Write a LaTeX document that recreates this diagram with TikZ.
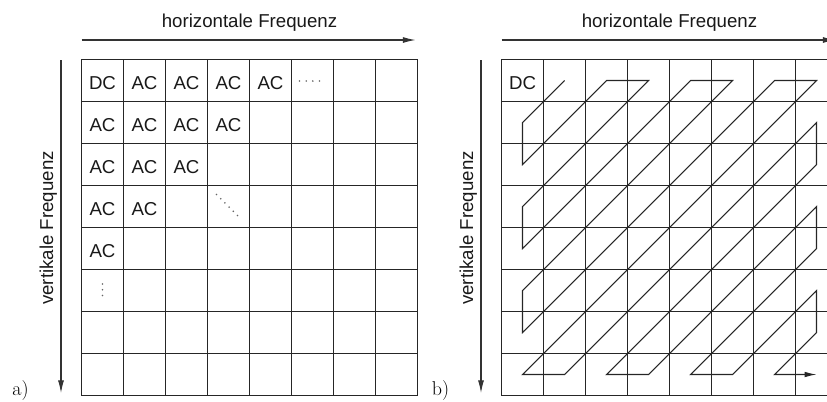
\documentclass[tikz,border=0pt]{standalone}
\usepackage{fontspec}
\newfontfamily\labelfont{Liberation Sans}
\usetikzlibrary{arrows.meta}
\begin{document}
\begin{tikzpicture}[x=0.75pt,y=-0.75pt,
  gridline/.style={line width=1pt, draw=black!85},
  frameline/.style={line width=1.4pt, draw=black!85},
  axis/.style={line width=0.8pt, draw=black!80, -{Latex[length=9.5pt,width=4.5pt]}},
  scanline/.style={line width=0.8pt, draw=black!85, line join=miter, -{Latex[length=9pt,width=4.2pt]}},
  celltext/.style={font=\labelfont\fontsize{14}{14}\selectfont, anchor=base, inner sep=0pt, text=black!90},
  axislabel/.style={font=\labelfont\fontsize{14}{14}\selectfont, anchor=base, inner sep=0pt, text=black!90},
  panellabel/.style={font=\fontsize{15}{15}\selectfont, anchor=base, inner sep=0pt},
  dotmark/.style={fill=black!60}
]
\def\cs{42}
\useasboundingbox (0,0) rectangle (827,401);
\clip (0,0) rectangle (827,401);

% both panels: 8x8 grid, frequency axes and their labels
\foreach \p/\ox in {a/0,b/420} {
  \begin{scope}[shift={(81.5+\ox,59.5)}]
    \draw[gridline] foreach \i in {1,...,7} {(\i*\cs,0) -- (\i*\cs,8*\cs) (0,\i*\cs) -- (8*\cs,\i*\cs)};
    \draw[frameline] (0,0) rectangle (8*\cs,8*\cs);
    \coordinate (\p-hs) at (0,-19.5);
    \coordinate (\p-he) at (8*\cs-2,-19.5);
    \draw[axis] (\p-hs) -- (\p-he);
    \coordinate (\p-vs) at (-20.5,0.5);
    \coordinate (\p-ve) at (-20.5,333.5);
    \draw[axis] (\p-vs) -- (\p-ve);
    \node[axislabel] (\p-hlabel) at (4*\cs,-32) {horizontale Frequenz};
    \node[axislabel, rotate=90] (\p-vlabel) at (-28.5,168.5) {vertikale Frequenz};
    \node[panellabel] (\p-panel) at (-61,336) {\p)};
  \end{scope}
}

% panel a: DC and AC coefficients
\node[celltext] (a-0-0) at (81.5+0.5*\cs,59.5+30) {DC};
\foreach \c/\r in {1/0,2/0,3/0,4/0,0/1,1/1,2/1,3/1,0/2,1/2,2/2,0/3,1/3,0/4} {
  \node[celltext] (a-\c-\r) at (81.5+\cs*\c+0.5*\cs,59.5+\cs*\r+30) {AC};
}
% continuation dots
\foreach \i in {0,...,3} \fill[dotmark] (299.5+6.67*\i,81) circle (0.9);
\foreach \i in {0,...,2} \fill[dotmark] (102.5,284+5.75*\i) circle (0.9);
\foreach \i in {0,...,5} \fill[dotmark] (216.5+4.2*\i,194.5+4.2*\i) circle (0.9);

% panel b: zig-zag scan through the cell centres
\node[celltext] (b-0-0) at (501.5+0.5*\cs,59.5+30) {DC};
\foreach \c in {0,...,7} {
  \foreach \r in {0,...,7} {
    \coordinate (z-\c-\r) at (501.5+\cs*\c+0.5*\cs,59.5+\cs*\r+0.5*\cs);
  }
}
\draw[scanline] (z-1-0) -- (z-0-1) -- (z-0-2) -- (z-2-0) -- (z-3-0) -- (z-0-3)
  -- (z-0-4) -- (z-4-0) -- (z-5-0) -- (z-0-5) -- (z-0-6) -- (z-6-0) -- (z-7-0)
  -- (z-0-7) -- (z-1-7) -- (z-7-1) -- (z-7-2) -- (z-2-7) -- (z-3-7) -- (z-7-3)
  -- (z-7-4) -- (z-4-7) -- (z-5-7) -- (z-7-5) -- (z-7-6) -- (z-6-7) -- (z-7-7);
\end{tikzpicture}
\end{document}
